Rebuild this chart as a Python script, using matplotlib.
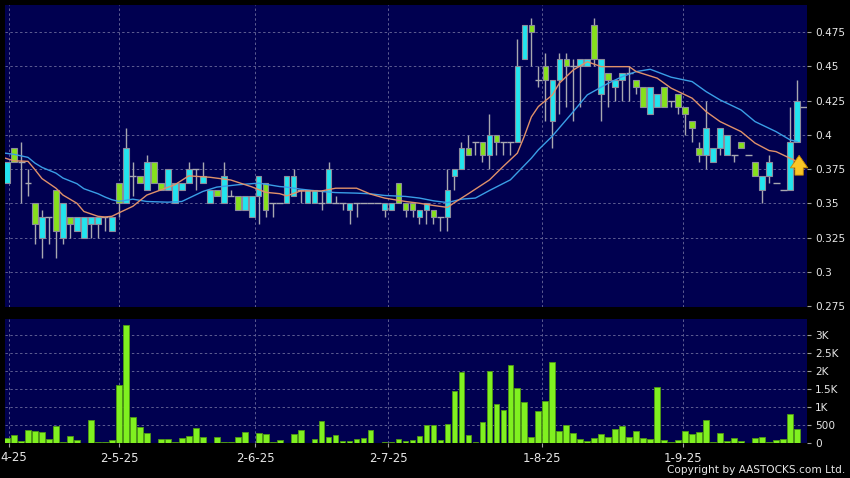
import matplotlib
matplotlib.use("Agg")
import matplotlib.pyplot as plt
import matplotlib.transforms as mtransforms
import numpy as np

# ---------------- data ----------------
opens = [0.365, 0.39, 0.38, 0.365, 0.35, 0.325, 0.34, 0.36, 0.325, 0.34,
         0.33, 0.325, 0.335, 0.335, 0.34, 0.33, 0.365, 0.35, 0.37, 0.37,
         0.36, 0.38, 0.365, 0.36, 0.35, 0.36, 0.365, 0.375, 0.365, 0.35,
         0.36, 0.35, 0.355, 0.355, 0.345, 0.34, 0.355, 0.365, 0.35, 0.35,
         0.35, 0.355, 0.36, 0.35, 0.35, 0.35, 0.35, 0.35, 0.35, 0.345,
         0.35, 0.35, 0.35, 0.35, 0.345, 0.345, 0.365, 0.35, 0.35, 0.34,
         0.345, 0.345, 0.34, 0.34, 0.37, 0.375, 0.39, 0.395, 0.395, 0.385,
         0.40, 0.395, 0.395, 0.395, 0.455, 0.48, 0.44, 0.45, 0.41, 0.44,
         0.455, 0.45, 0.45, 0.45, 0.48, 0.43, 0.445, 0.435, 0.44, 0.445,
         0.44, 0.435, 0.415, 0.42, 0.435, 0.425, 0.43, 0.42, 0.41, 0.39,
         0.385, 0.38, 0.39, 0.385, 0.385, 0.395, 0.385, 0.38, 0.36, 0.37,
         0.365, 0.36, 0.36, 0.395]
highs = [0.38, 0.39, 0.395, 0.375, 0.35, 0.345, 0.34, 0.36, 0.35, 0.34,
         0.34, 0.34, 0.34, 0.34, 0.34, 0.34, 0.365, 0.405, 0.38, 0.37,
         0.385, 0.38, 0.365, 0.375, 0.365, 0.365, 0.38, 0.375, 0.38, 0.36,
         0.36, 0.38, 0.36, 0.355, 0.355, 0.355, 0.37, 0.365, 0.35, 0.35,
         0.37, 0.375, 0.36, 0.36, 0.36, 0.36, 0.38, 0.355, 0.35, 0.35,
         0.35, 0.35, 0.35, 0.35, 0.35, 0.35, 0.365, 0.35, 0.35, 0.345,
         0.35, 0.345, 0.34, 0.375, 0.375, 0.395, 0.40, 0.395, 0.395, 0.415,
         0.40, 0.395, 0.395, 0.47, 0.48, 0.485, 0.45, 0.46, 0.44, 0.46,
         0.46, 0.455, 0.455, 0.455, 0.485, 0.455, 0.445, 0.44, 0.445, 0.45,
         0.44, 0.435, 0.435, 0.43, 0.435, 0.425, 0.43, 0.42, 0.41, 0.395,
         0.425, 0.39, 0.405, 0.40, 0.385, 0.395, 0.385, 0.38, 0.37, 0.385,
         0.365, 0.36, 0.42, 0.44]
lows = [0.365, 0.38, 0.35, 0.355, 0.32, 0.31, 0.32, 0.31, 0.32, 0.325,
        0.33, 0.325, 0.325, 0.325, 0.33, 0.33, 0.34, 0.35, 0.355, 0.365,
        0.36, 0.365, 0.36, 0.36, 0.35, 0.36, 0.365, 0.36, 0.365, 0.35,
        0.355, 0.35, 0.355, 0.345, 0.345, 0.34, 0.335, 0.34, 0.34, 0.35,
        0.35, 0.355, 0.35, 0.35, 0.35, 0.345, 0.35, 0.35, 0.345, 0.335,
        0.34, 0.35, 0.35, 0.35, 0.34, 0.345, 0.35, 0.34, 0.34, 0.335,
        0.335, 0.335, 0.33, 0.33, 0.36, 0.375, 0.385, 0.385, 0.38, 0.375,
        0.385, 0.385, 0.385, 0.395, 0.455, 0.45, 0.435, 0.41, 0.39, 0.415,
        0.42, 0.41, 0.42, 0.45, 0.45, 0.41, 0.42, 0.425, 0.425, 0.425,
        0.43, 0.42, 0.415, 0.42, 0.42, 0.42, 0.415, 0.40, 0.395, 0.38,
        0.375, 0.38, 0.385, 0.385, 0.38, 0.39, 0.385, 0.37, 0.35, 0.365,
        0.365, 0.36, 0.36, 0.395]
closes = [0.38, 0.38, 0.38, 0.365, 0.335, 0.34, 0.34, 0.33, 0.35, 0.335,
          0.34, 0.34, 0.34, 0.34, 0.34, 0.34, 0.35, 0.39, 0.37, 0.365,
          0.38, 0.365, 0.36, 0.375, 0.365, 0.365, 0.375, 0.375, 0.37, 0.36,
          0.355, 0.37, 0.355, 0.345, 0.355, 0.355, 0.37, 0.345, 0.35, 0.35,
          0.37, 0.37, 0.36, 0.36, 0.36, 0.35, 0.375, 0.35, 0.35, 0.35,
          0.35, 0.35, 0.35, 0.35, 0.35, 0.35, 0.35, 0.345, 0.345, 0.345,
          0.35, 0.34, 0.34, 0.36, 0.375, 0.39, 0.385, 0.395, 0.385, 0.40,
          0.395, 0.395, 0.395, 0.45, 0.48, 0.475, 0.44, 0.44, 0.44, 0.455,
          0.45, 0.45, 0.455, 0.455, 0.455, 0.455, 0.44, 0.44, 0.445, 0.445,
          0.435, 0.42, 0.435, 0.43, 0.42, 0.425, 0.42, 0.415, 0.405, 0.385,
          0.405, 0.39, 0.405, 0.40, 0.385, 0.39, 0.385, 0.37, 0.37, 0.38,
          0.365, 0.36, 0.395, 0.425]
volumes = [140, 230, 65, 370, 325, 295, 120, 480, 30, 205,
           95, 0, 650, 30, 15, 95, 1610, 3290, 730, 445,
           270, 0, 120, 120, 20, 150, 185, 415, 155, 0,
           165, 30, 30, 175, 305, 10, 270, 260, 35, 85,
           0, 240, 370, 0, 110, 610, 175, 220, 45, 65,
           100, 150, 350, 0, 30, 30, 110, 65, 95, 185,
           510, 510, 95, 530, 1450, 1980, 215, 30, 595, 1990,
           1075, 925, 2175, 1530, 1140, 175, 900, 1175, 2260, 345,
           500, 285, 100, 65, 140, 260, 165, 400, 480, 175,
           335, 140, 120, 1555, 85, 35, 75, 345, 260, 315,
           650, 35, 285, 65, 140, 45, 10, 130, 155, 20,
           95, 110, 815, 390]
last_price = 0.42

# moving averages (x in trading-day index)
ma_fast_x = [-0.3, 1, 3, 4, 5, 7, 8, 10, 11, 13, 14, 15, 16, 18, 20, 24, 26,
             29, 32, 35, 37, 39, 40, 42, 45, 47, 50, 52, 54, 57, 59, 61, 63,
             64, 66, 69, 71, 73, 74, 75, 76, 78, 79, 81, 83, 85, 89, 90, 93,
             95, 98, 100, 102, 105, 107, 109, 110, 112, 113]
ma_fast_y = [0.383, 0.381, 0.3806, 0.3745, 0.368, 0.361, 0.356, 0.350, 0.344,
             0.3405, 0.340, 0.3405, 0.343, 0.3478, 0.356, 0.3635, 0.370,
             0.369, 0.367, 0.362, 0.358, 0.357, 0.3554, 0.359, 0.359, 0.361,
             0.361, 0.3567, 0.3538, 0.3513, 0.350, 0.3484, 0.347, 0.3505,
             0.357, 0.367, 0.377, 0.3866, 0.399, 0.413, 0.4206, 0.429, 0.4376,
             0.4473, 0.4533, 0.4497, 0.4497, 0.4461, 0.4413, 0.434, 0.4267,
             0.4169, 0.4096, 0.4023, 0.3939, 0.3885, 0.3877, 0.3829, 0.3805]
ma_slow_x = [-0.3, 1, 3, 4, 5, 7, 8, 10, 11, 13, 14, 15, 16, 18, 20, 23, 25,
             28, 30, 33, 36, 39, 40, 42, 45, 47, 50, 52, 54, 57, 59, 61, 63,
             65, 67, 69, 72, 75, 76, 78, 79, 81, 83, 86, 88, 90, 92, 95, 98,
             100, 102, 105, 107, 110, 112, 113]
ma_slow_y = [0.3866, 0.3857, 0.3835, 0.3793, 0.3762, 0.372, 0.3684, 0.3643,
             0.3606, 0.357, 0.3546, 0.3526, 0.3514, 0.353, 0.3513, 0.3508,
             0.3513, 0.3586, 0.3618, 0.3635, 0.3647, 0.3622, 0.3618, 0.3603,
             0.3586, 0.3578, 0.3574, 0.3569, 0.3557, 0.355, 0.3538, 0.3518,
             0.3505, 0.353, 0.3538, 0.3593, 0.3671, 0.3829, 0.389, 0.399,
             0.405, 0.4169, 0.4291, 0.4376, 0.4424, 0.4461, 0.4478, 0.442,
             0.4388, 0.4315, 0.4254, 0.4181, 0.4096, 0.4023, 0.3963, 0.395]

# first date label is shown clipped in the reference ("4-25")
date_labels = ["4-25", "2-5-25", "2-6-25", "2-7-25", "1-8-25", "1-9-25"]
date_pos = [0.3, 16.0, 35.5, 54.5, 76.5, 96.7]

price_ticks = [0.275, 0.3, 0.325, 0.35, 0.375, 0.4, 0.425, 0.45, 0.475]
price_labels = ["0.275", "0.3", "0.325", "0.35", "0.375", "0.4", "0.425", "0.45", "0.475"]
vol_ticks = [0, 500, 1000, 1500, 2000, 2500, 3000]
vol_labels = ["0", "500", "1K", "1.5K", "2K", "2.5K", "3K"]

# ---------------- style ----------------
BG = "#000050"
CYAN = "#22e4ee"
GREEN = "#86e01c"
EDGE = "#8c8c9c"
WICK = "#a8a8b0"
VOL = "#80f020"
VOL_EDGE = "#4f9a12"
GRID = "#5d5d92"
TXT = "#e6e6e6"
MA_FAST = "#e0916a"
MA_SLOW = "#3a9ee6"

W, H = 850, 478
fig = plt.figure(figsize=(W / 100, H / 100), dpi=100, facecolor="black")

def frac(x0, y0, x1, y1):
    return [x0 / W, 1 - y1 / H, (x1 - x0) / W, (y1 - y0) / H]

ax = fig.add_axes(frac(5, 5, 807, 307))
axv = fig.add_axes(frac(5, 319, 807, 443))

o = np.array(opens); h = np.array(highs); l = np.array(lows); c = np.array(closes)
n = len(o)
x = np.arange(n)
up = c > o + 1e-9
dn = c < o - 1e-9
fl = ~(up | dn)

for a in (ax, axv):
    a.set_facecolor(BG)
    for s in a.spines.values():
        s.set_visible(False)
    a.set_xlim(-0.29, 114.43)
    a.set_xticks(date_pos)
    for xp in date_pos:
        a.axvline(xp, color=GRID, lw=0.7, ls=(0, (2.5, 2.5)), zorder=1)
    a.yaxis.tick_right()
    a.tick_params(axis="y", colors="#a0a0a0", labelcolor=TXT, labelsize=7.6,
                  length=3, width=0.8, pad=3)

# price panel
ax.set_ylim(0.2743, 0.4947)
ax.set_yticks(price_ticks)
ax.set_yticklabels(price_labels)
for yp in price_ticks[1:]:
    ax.axhline(yp, color=GRID, lw=0.7, ls=(0, (2.5, 2.5)), zorder=1)
ax.tick_params(axis="x", length=0, labelbottom=False)

ax.vlines(x, l, h, color=WICK, lw=1.0, zorder=2)
ax.bar(x[up], c[up] - o[up], bottom=o[up], width=0.8, color=CYAN,
       edgecolor=EDGE, linewidth=0.8, zorder=3)
ax.bar(x[dn], o[dn] - c[dn], bottom=c[dn], width=0.8, color=GREEN,
       edgecolor=EDGE, linewidth=0.8, zorder=3)
ax.hlines(o[fl], x[fl] - 0.5, x[fl] + 0.5, color=WICK, lw=1.0, zorder=3)
ax.hlines(last_price, x[-1] + 0.45, x[-1] + 1.4, color=WICK, lw=1.0, zorder=3)

ax.plot(ma_slow_x, ma_slow_y, color=MA_SLOW, lw=1.0, zorder=4)
ax.plot(ma_fast_x, ma_fast_y, color=MA_FAST, lw=1.0, zorder=4)

# buy-signal arrow under the last candle
ax.annotate("", xy=(x[-1] + 0.3, o[-1] - 0.008), xytext=(x[-1] + 0.3, o[-1] - 0.0265),
            arrowprops=dict(arrowstyle="simple,head_length=0.9,head_width=1.25,tail_width=0.6",
                            mutation_scale=10, fc="#f8c626", ec="#c88a00", lw=0.6),
            zorder=6, annotation_clip=False)

# volume panel
axv.set_ylim(0, 3444)
axv.set_yticks(vol_ticks)
axv.set_yticklabels(vol_labels)
for yp in vol_ticks[1:]:
    axv.axhline(yp, color=GRID, lw=0.7, ls=(0, (2.5, 2.5)), zorder=1)
axv.bar(x, volumes, width=0.82, color=VOL, edgecolor=VOL_EDGE, linewidth=0.6, zorder=3)
axv.set_xticklabels(date_labels)
axv.tick_params(axis="x", colors="#a0a0a0", labelcolor=TXT, labelsize=8.5,
                length=3, width=0.8, pad=3.5)
# the clipped first label sits flush with the left edge
first = axv.get_xticklabels()[0]
first.set_horizontalalignment("left")
first.set_x(0)
first.set_transform(axv.get_xaxis_transform() +
                    mtransforms.ScaledTranslation(-0.09, -0.083, fig.dpi_scale_trans))

fig.text(845 / W, 1 - 470 / H, "Copyright by AASTOCKS.com Ltd.", color=TXT,
         fontsize=7.6, ha="right", va="center")

fig.savefig("out.png", dpi=100, facecolor="black")
